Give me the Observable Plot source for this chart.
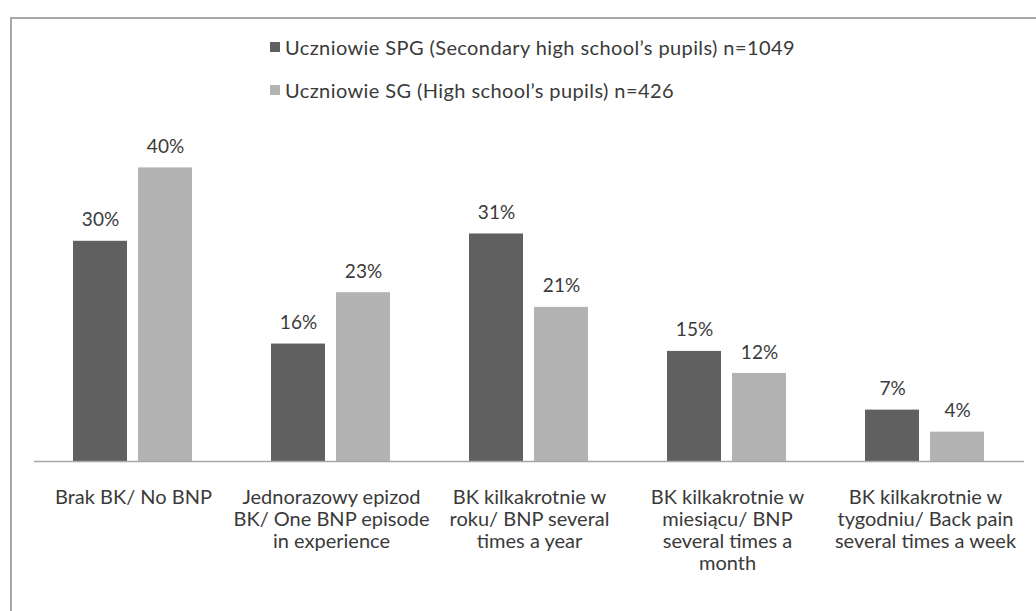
<!DOCTYPE html>
<html>
<head>
<meta charset="utf-8">
<script src="https://cdn.jsdelivr.net/npm/d3@7"></script>
<script src="https://cdn.jsdelivr.net/npm/@observablehq/plot@0.6"></script>
<style>
  html, body { margin: 0; padding: 0; background: #fff; }
  #wrap { position: relative; width: 1036px; height: 611px; overflow: hidden; font-family: Lato, "Open Sans", sans-serif; color: #3a3a3a; }
  #frame { position: absolute; left: 10px; top: 17px; width: 1100px; height: 700px; border: 2px solid #a8a8a8; box-sizing: border-box; }
  #chart { position: absolute; left: 0; top: 0; }
  #legend { position: absolute; left: 270px; top: 36px; font-size: 20px; letter-spacing: 0.4px; }
  .item { display: flex; align-items: center; height: 22px; margin-bottom: 21px; white-space: nowrap; }
  .sw { width: 10px; height: 10px; margin-right: 5px; }
</style>
</head>
<body>
<div id="wrap">
  <div id="frame"></div>
  <div id="chart"></div>
  <div id="legend"></div>
</div>
<script>
const categories = [
  "Brak BK/ No BNP",
  "Jednorazowy epizod BK/ One BNP episode in experience",
  "BK kilkakrotnie w roku/ BNP several times a year",
  "BK kilkakrotnie w miesiącu/ BNP several times a month",
  "BK kilkakrotnie w tygodniu/ Back pain several times a week"
];
const categoryLabels = [
  "Brak BK/ No BNP",
  "Jednorazowy epizod\nBK/ One BNP episode\nin experience",
  "BK kilkakrotnie w\nroku/ BNP several\ntimes a year",
  "BK kilkakrotnie w\nmiesiącu/ BNP\nseveral times a\nmonth",
  "BK kilkakrotnie w\ntygodniu/ Back pain\nseveral times a week"
];
const seriesNames = [
  "Uczniowie SPG (Secondary high school’s pupils) n=1049",
  "Uczniowie SG (High school’s pupils) n=426"
];
const spgValues = [30, 16, 31, 15, 7];
const sgValues = [40, 23, 21, 12, 4];
const seriesColors = ["#606060", "#b3b3b3"];

const rows = [];
categories.forEach((c, i) => {
  rows.push({category: c, series: seriesNames[0], value: spgValues[i]});
  rows.push({category: c, series: seriesNames[1], value: sgValues[i]});
});

const chart = Plot.plot({
  width: 1036,
  height: 611,
  marginTop: 94,
  marginBottom: 150,
  marginLeft: 34,
  marginRight: 12,
  style: {fontFamily: "Lato, 'Open Sans', sans-serif", background: "transparent", color: "#3a3a3a"},
  fx: {domain: categories, padding: 0, axis: null},
  x: {domain: seriesNames, paddingInner: 0.167, paddingOuter: 0.59, axis: null},
  y: {domain: [0, 50], axis: null},
  color: {domain: seriesNames, range: seriesColors},
  marks: [
    Plot.barY(rows, {fx: "category", x: "series", y: "value", fill: "series"}),
    Plot.text(rows, {fx: "category", x: "series", y: "value", text: d => d.value + "%", dy: -21, fontSize: 19, fill: "#3a3a3a"}),
    Plot.ruleY([0], {stroke: "#a6a6a6", strokeWidth: 1.5}),
    Plot.text(categories, {fx: d => d, frameAnchor: "bottom", text: (d, i) => categoryLabels[i], lineAnchor: "top", dy: 27, fontSize: 20, lineHeight: 1.1, fill: "#3a3a3a"})
  ]
});
document.getElementById("chart").appendChild(chart);

const legend = document.getElementById("legend");
seriesNames.forEach((s, i) => {
  const item = document.createElement("div");
  item.className = "item";
  const sw = document.createElement("span");
  sw.className = "sw";
  sw.style.background = seriesColors[i];
  const t = document.createElement("span");
  t.textContent = s;
  item.appendChild(sw);
  item.appendChild(t);
  legend.appendChild(item);
});
</script>
</body>
</html>
